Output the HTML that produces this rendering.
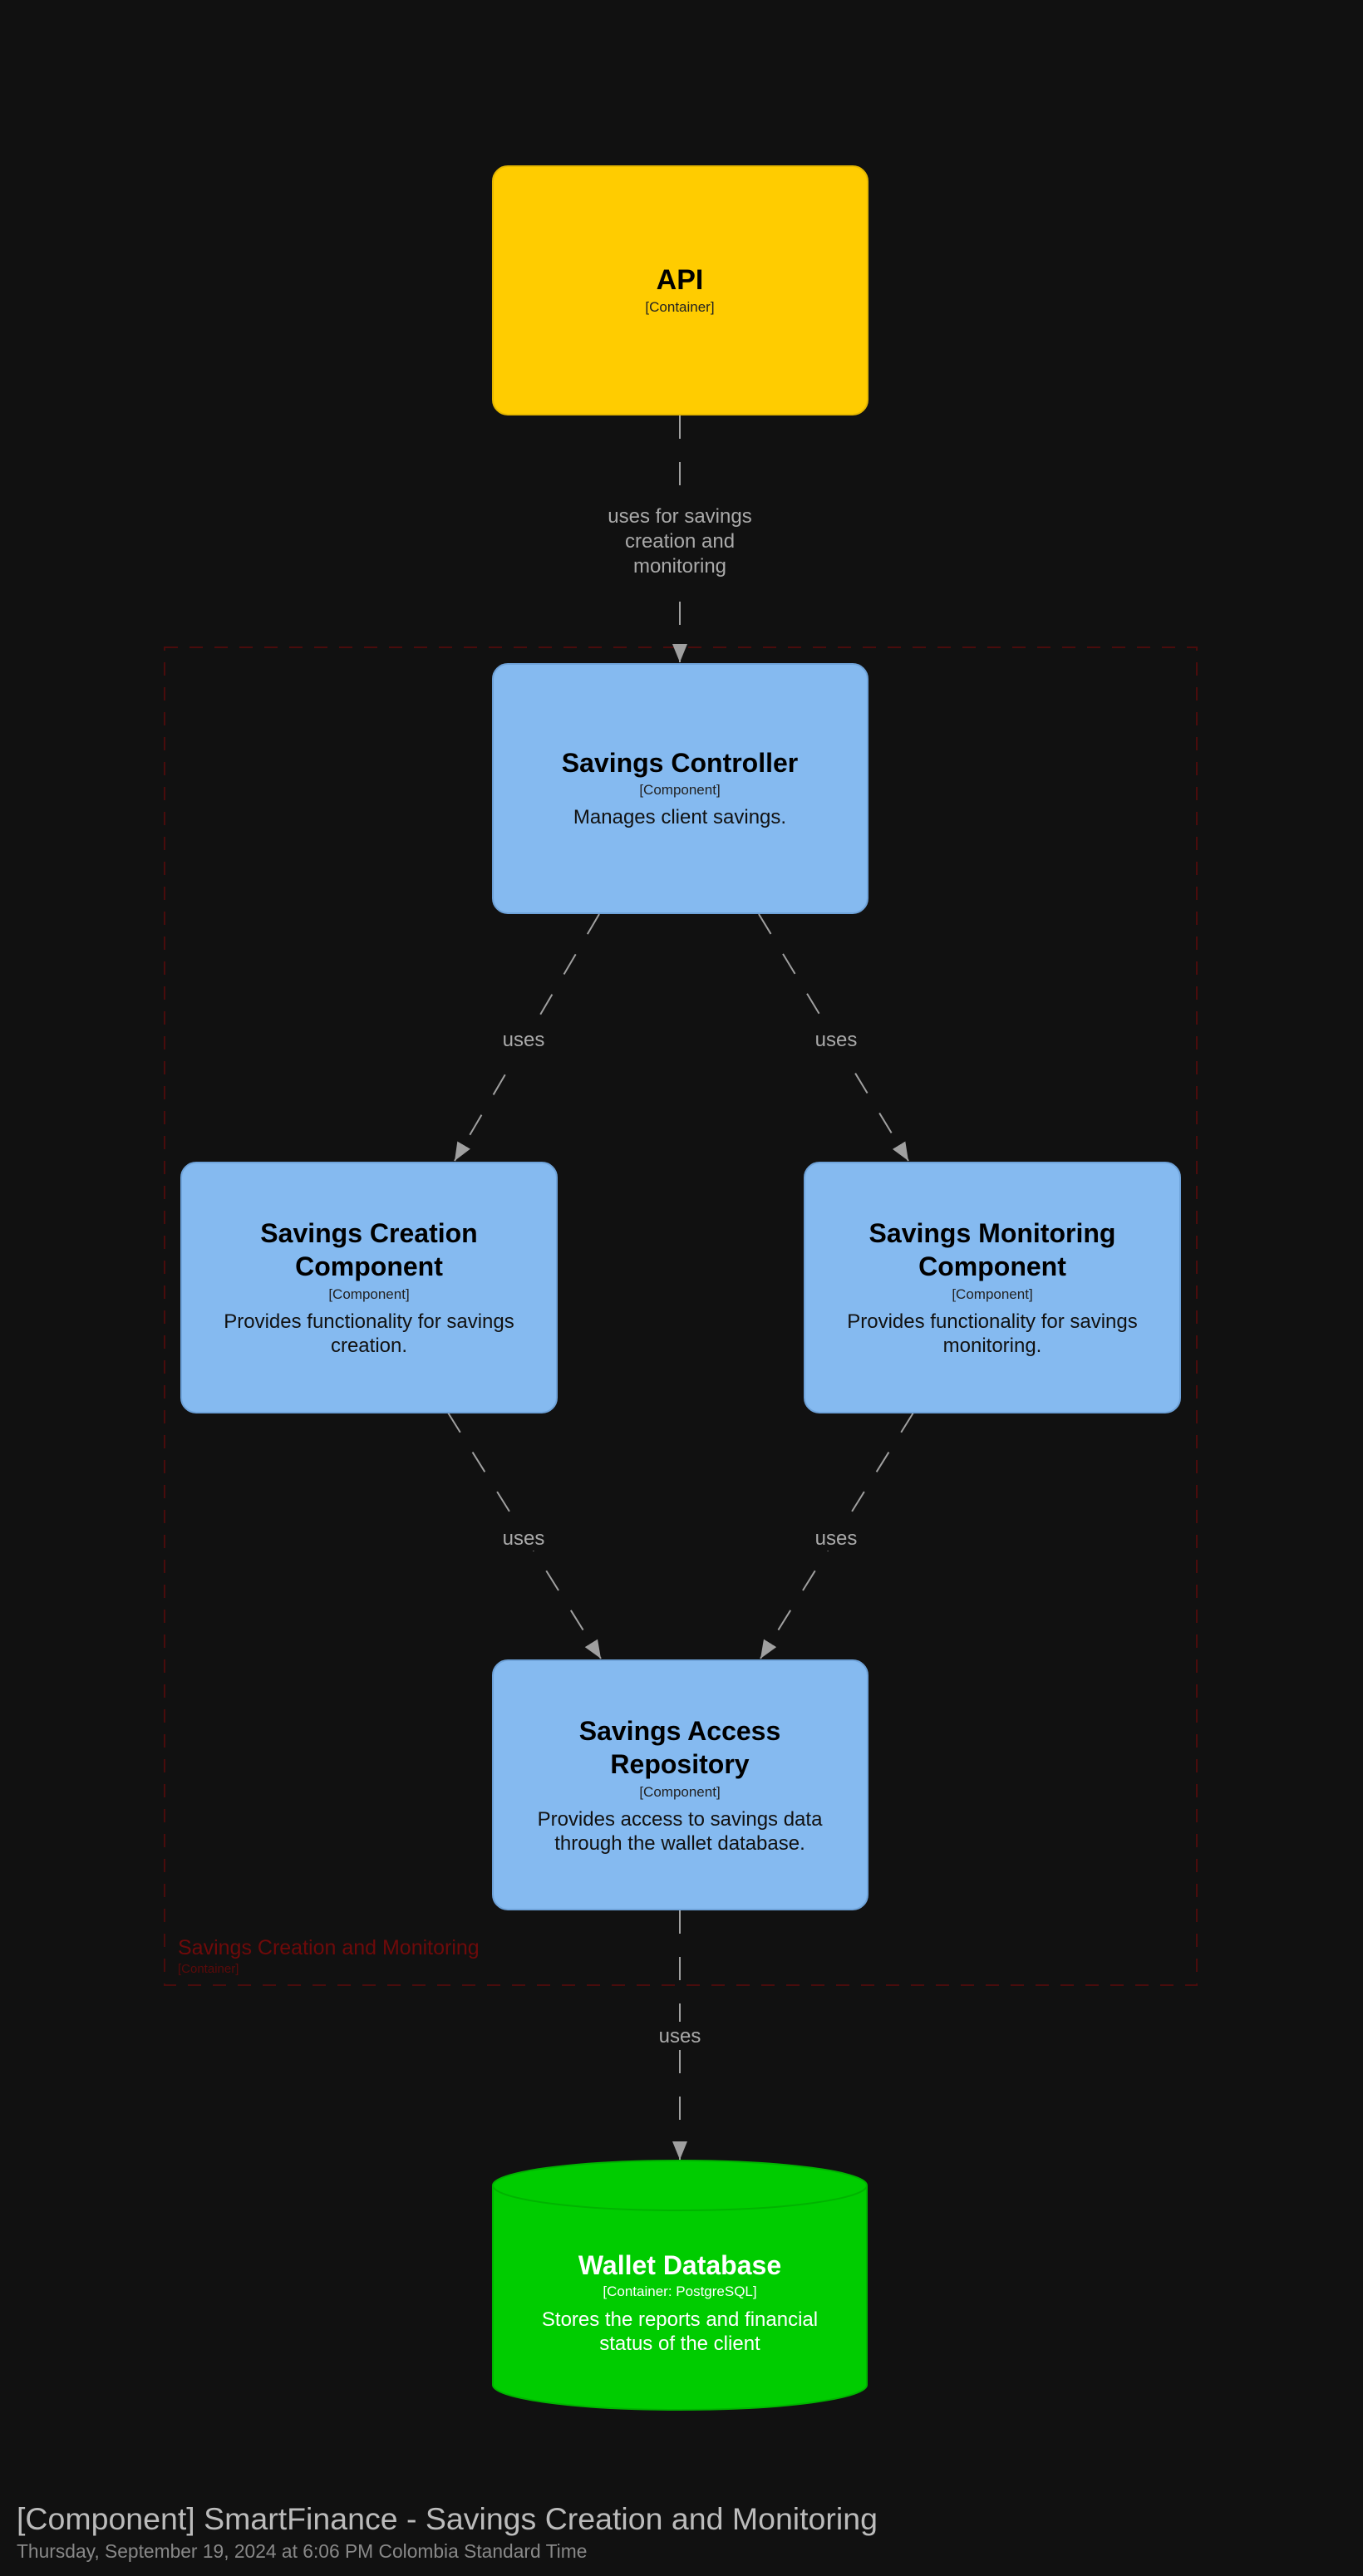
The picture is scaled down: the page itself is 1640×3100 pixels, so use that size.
<!DOCTYPE html>
<html><head><meta charset="utf-8"><style>
html,body{margin:0;padding:0;background:#111111;}
svg{display:block;}
text{font-family:"Liberation Sans",sans-serif;}
</style></head><body>
<svg width="1640" height="3100" viewBox="0 0 1640 3100" xmlns="http://www.w3.org/2000/svg">
<rect width="1640" height="3100" fill="#111111"/>
<defs>
<marker id="ah" markerWidth="24" markerHeight="24" refX="22" refY="9" orient="auto" markerUnits="userSpaceOnUse">
<path d="M0,0 L22,9 L0,18 Z" fill="#a0a0a0"/>
</marker>
</defs>
<!-- boundary -->
<rect x="198" y="779" width="1242" height="1610" fill="none" stroke="#4a0c0c" stroke-width="2" stroke-dasharray="16 14"/>
<text x="214" y="2352" font-size="25" fill="#6e0a0a">Savings Creation and Monitoring</text>
<text x="214" y="2374" font-size="15" fill="#5a0a0a">[Container]</text>

<!-- connectors -->
<g stroke="#a0a0a0" stroke-width="2" stroke-dasharray="28 28" fill="none">
<line x1="818" y1="500" x2="818" y2="797" marker-end="url(#ah)"/>
<line x1="721" y1="1100" x2="547" y2="1397" marker-end="url(#ah)"/>
<line x1="913" y1="1100" x2="1093" y2="1397" marker-end="url(#ah)"/>
<line x1="539" y1="1700" x2="723" y2="1996" marker-end="url(#ah)"/>
<line x1="1099" y1="1700" x2="915" y2="1996" marker-end="url(#ah)"/>
<line x1="818" y1="2299" x2="818" y2="2599" marker-end="url(#ah)"/>
</g>
<g fill="#111111">
<rect x="720" y="600" width="196" height="96"/>
<rect x="596" y="1230" width="68" height="44"/>
<rect x="972" y="1230" width="68" height="44"/>
<rect x="600" y="1834" width="60" height="32"/>
<rect x="976" y="1834" width="60" height="32"/>
<rect x="788" y="2433" width="60" height="32"/>
</g>
<g font-size="24" fill="#aaaaaa" text-anchor="middle">
<text x="818" y="629">uses for savings</text>
<text x="818" y="659">creation and</text>
<text x="818" y="689">monitoring</text>
<text x="630" y="1259">uses</text>
<text x="1006" y="1259">uses</text>
<text x="630" y="1859">uses</text>
<text x="1006" y="1859">uses</text>
<text x="818" y="2458">uses</text>
</g>

<!-- API -->
<rect x="593" y="200" width="451" height="299" rx="18" fill="#ffcc00" stroke="#e6b800" stroke-width="2"/>
<text x="818" y="348" font-size="34" font-weight="bold" text-anchor="middle" fill="#000">API</text>
<text x="818" y="375" font-size="17" text-anchor="middle" fill="#222">[Container]</text>

<!-- Controller -->
<rect x="593" y="799" width="451" height="300" rx="18" fill="#85baf0" stroke="#6fa3da" stroke-width="2"/>
<text x="818" y="929" font-size="32" font-weight="bold" text-anchor="middle" fill="#000">Savings Controller</text>
<text x="818" y="956" font-size="17" text-anchor="middle" fill="#222">[Component]</text>
<text x="818" y="991" font-size="24" text-anchor="middle" fill="#111">Manages client savings.</text>

<!-- Creation -->
<rect x="218" y="1399" width="452" height="301" rx="18" fill="#85baf0" stroke="#6fa3da" stroke-width="2"/>
<g text-anchor="middle">
<text x="444" y="1495" font-size="32" font-weight="bold" fill="#000">Savings Creation</text>
<text x="444" y="1535" font-size="32" font-weight="bold" fill="#000">Component</text>
<text x="444" y="1563" font-size="17" fill="#222">[Component]</text>
<text x="444" y="1598" font-size="24" fill="#111">Provides functionality for savings</text>
<text x="444" y="1627" font-size="24" fill="#111">creation.</text>
</g>

<!-- Monitoring -->
<rect x="968" y="1399" width="452" height="301" rx="18" fill="#85baf0" stroke="#6fa3da" stroke-width="2"/>
<g text-anchor="middle">
<text x="1194" y="1495" font-size="32" font-weight="bold" fill="#000">Savings Monitoring</text>
<text x="1194" y="1535" font-size="32" font-weight="bold" fill="#000">Component</text>
<text x="1194" y="1563" font-size="17" fill="#222">[Component]</text>
<text x="1194" y="1598" font-size="24" fill="#111">Provides functionality for savings</text>
<text x="1194" y="1627" font-size="24" fill="#111">monitoring.</text>
</g>

<!-- Repository -->
<rect x="593" y="1998" width="451" height="300" rx="18" fill="#85baf0" stroke="#6fa3da" stroke-width="2"/>
<g text-anchor="middle">
<text x="818" y="2094" font-size="32" font-weight="bold" fill="#000">Savings Access</text>
<text x="818" y="2134" font-size="32" font-weight="bold" fill="#000">Repository</text>
<text x="818" y="2162" font-size="17" fill="#222">[Component]</text>
<text x="818" y="2197" font-size="24" fill="#111">Provides access to savings data</text>
<text x="818" y="2226" font-size="24" fill="#111">through the wallet database.</text>
</g>

<!-- Database -->
<path d="M593,2630 A225,30 0 0 1 1043,2630 L1043,2870 A225,30 0 0 1 593,2870 Z" fill="#00cc00" stroke="#00b300" stroke-width="2"/>
<path d="M593,2630 A225,30 0 0 0 1043,2630" fill="none" stroke="#00b300" stroke-width="2"/>
<g text-anchor="middle" fill="#fff">
<text x="818" y="2737" font-size="32" font-weight="bold">Wallet Database</text>
<text x="818" y="2763" font-size="17">[Container: PostgreSQL]</text>
<text x="818" y="2799" font-size="24">Stores the reports and financial</text>
<text x="818" y="2828" font-size="24">status of the client</text>
</g>

<!-- title -->
<text x="20" y="3044" font-size="37.5" fill="#bbbbbb">[Component] SmartFinance - Savings Creation and Monitoring</text>
<text x="20" y="3078" font-size="22.8" fill="#888888">Thursday, September 19, 2024 at 6:06 PM Colombia Standard Time</text>
</svg>
</body></html>
